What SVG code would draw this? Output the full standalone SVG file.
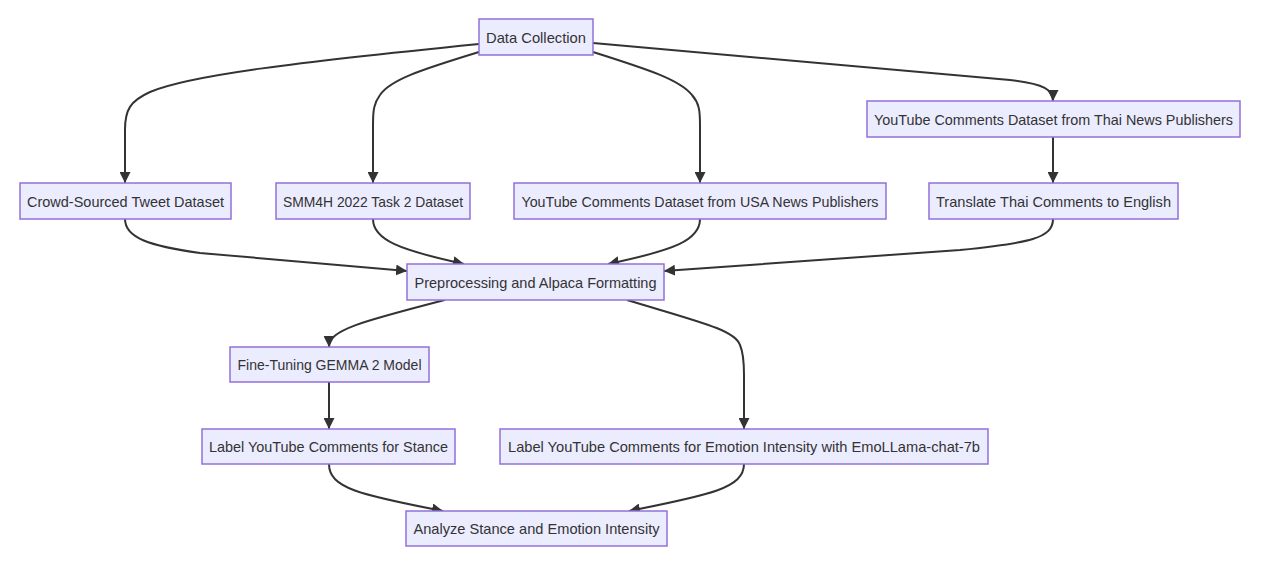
<svg xmlns="http://www.w3.org/2000/svg" width="1264" height="567" viewBox="0 0 1264 567">
<style>
.node rect{fill:#ECECFF;stroke:#9370DB;stroke-width:1.5}
.node text{font-family:"Liberation Sans",Arial,sans-serif;font-size:15px;fill:#333333;text-anchor:middle;dominant-baseline:central}
.edge{fill:none;stroke:#333333;stroke-width:2}
</style>
<defs>
<marker id="arrow" viewBox="0 0 10 10" refX="10" refY="5" markerWidth="11" markerHeight="11" markerUnits="userSpaceOnUse" orient="auto">
<path d="M0,0 L10,5 L0,10 z" fill="#333333"/>
</marker>
</defs>
<rect width="1264" height="567" fill="#ffffff"/>
<g id="connectors">
<path class="edge" marker-end="url(#arrow)" d="M479,44 C300,62 190,75 150,92 C130,101 125,110 125,130 L125,183"/>
<path class="edge" marker-end="url(#arrow)" d="M479,52 C420,70 390,80 380,95 C374,103 373,110 373,125 L373,183"/>
<path class="edge" marker-end="url(#arrow)" d="M593,52 C650,70 680,80 692,95 C699,103 700,110 700,125 L700,183"/>
<path class="edge" marker-end="url(#arrow)" d="M593,43 L1010,80 C1045,84 1053,90 1053,101"/>
<path class="edge" marker-end="url(#arrow)" d="M1053,137 L1053,183"/>
<path class="edge" marker-end="url(#arrow)" d="M125,219 C125,238 150,246 200,253 L407,271"/>
<path class="edge" marker-end="url(#arrow)" d="M373,219 C373,240 400,250 464,264"/>
<path class="edge" marker-end="url(#arrow)" d="M700,219 C700,240 675,250 608,264"/>
<path class="edge" marker-end="url(#arrow)" d="M1053,219 C1053,238 1030,243 960,250 L664,271"/>
<path class="edge" marker-end="url(#arrow)" d="M445,300 C360,322 329,330 329,347"/>
<path class="edge" marker-end="url(#arrow)" d="M627,300 C700,322 735,330 740,345 C743,352 744,360 744,375 L744,429"/>
<path class="edge" marker-end="url(#arrow)" d="M329,382 L329,429"/>
<path class="edge" marker-end="url(#arrow)" d="M329,464 C329,488 360,495 443,511"/>
<path class="edge" marker-end="url(#arrow)" d="M744,464 C744,488 710,495 629,511"/>
</g>
<g id="n-data-collection" class="node"><rect x="479" y="19" width="114" height="36"/><text x="536" y="37" textLength="100" lengthAdjust="spacingAndGlyphs">Data Collection</text></g>
<g id="n-crowd" class="node"><rect x="20" y="183" width="211" height="36"/><text x="125.5" y="201" textLength="197" lengthAdjust="spacingAndGlyphs">Crowd-Sourced Tweet Dataset</text></g>
<g id="n-smm4h" class="node"><rect x="276" y="183" width="194" height="36"/><text x="373" y="201" textLength="180" lengthAdjust="spacingAndGlyphs">SMM4H 2022 Task 2 Dataset</text></g>
<g id="n-usa" class="node"><rect x="514" y="183" width="372" height="36"/><text x="700" y="201" textLength="357" lengthAdjust="spacingAndGlyphs">YouTube Comments Dataset from USA News Publishers</text></g>
<g id="n-thai" class="node"><rect x="867" y="101" width="373" height="36"/><text x="1053.5" y="119" textLength="359" lengthAdjust="spacingAndGlyphs">YouTube Comments Dataset from Thai News Publishers</text></g>
<g id="n-translate" class="node"><rect x="929" y="183" width="249" height="36"/><text x="1053.5" y="201" textLength="235" lengthAdjust="spacingAndGlyphs">Translate Thai Comments to English</text></g>
<g id="n-preprocessing" class="node"><rect x="407" y="264" width="257" height="36"/><text x="535.5" y="282" textLength="242" lengthAdjust="spacingAndGlyphs">Preprocessing and Alpaca Formatting</text></g>
<g id="n-finetuning" class="node"><rect x="230" y="347" width="199" height="35"/><text x="329.5" y="364.5" textLength="184" lengthAdjust="spacingAndGlyphs">Fine-Tuning GEMMA 2 Model</text></g>
<g id="n-stance" class="node"><rect x="202" y="429" width="253" height="35"/><text x="328.5" y="446.5" textLength="239" lengthAdjust="spacingAndGlyphs">Label YouTube Comments for Stance</text></g>
<g id="n-emotion" class="node"><rect x="500" y="429" width="488" height="35"/><text x="744" y="446.5" textLength="472" lengthAdjust="spacingAndGlyphs">Label YouTube Comments for Emotion Intensity with EmoLLama-chat-7b</text></g>
<g id="n-analyze" class="node"><rect x="406" y="511" width="261" height="35"/><text x="536.5" y="528.5" textLength="246" lengthAdjust="spacingAndGlyphs">Analyze Stance and Emotion Intensity</text></g>
</svg>
